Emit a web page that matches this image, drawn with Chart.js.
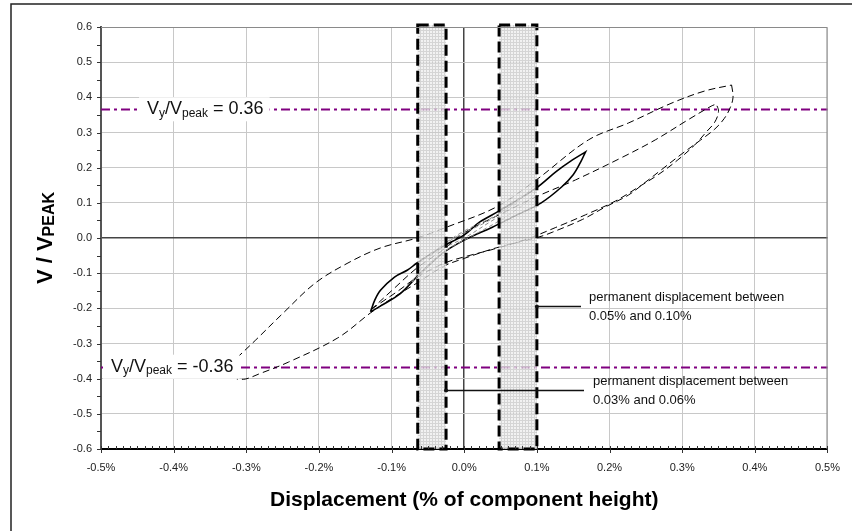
<!DOCTYPE html>
<html>
<head>
<meta charset="utf-8">
<script src="https://cdn.jsdelivr.net/npm/chart.js@4.4.1/dist/chart.umd.min.js"></script>
<style>
  html, body { margin: 0; padding: 0; background: #fff; }
  #wrap { width: 852px; height: 531px; }
</style>
</head>
<body>
<div id="wrap"><canvas id="chart" width="852" height="531"></canvas></div>
<script>
// x = displacement (% of component height), y = V / Vpeak
const YIELD_LEVELS = [0.366, -0.366];
const BANDS = [[-0.064, -0.025], [0.048, 0.100]];

// large dashed cycle (to 0.37%)
const loopAUp = [[-0.313,-0.341],[-0.287,-0.290],[-0.249,-0.213],[-0.205,-0.128],[-0.160,-0.071],[-0.115,-0.028],[-0.065,0.000],[-0.024,0.031],[0.044,0.088],[0.099,0.165],[0.171,0.279],[0.226,0.327],[0.286,0.384],[0.331,0.418],[0.368,0.435]];
const loopADown = [[0.368,0.435],[0.370,0.400],[0.366,0.370],[0.358,0.340],[0.345,0.310],[0.325,0.278],[0.300,0.240],[0.272,0.195],[0.249,0.158],[0.226,0.122],[0.194,0.088],[0.163,0.053],[0.122,0.017],[0.103,0.003],[0.044,-0.028],[0.000,-0.058],[-0.028,-0.080],[-0.065,-0.128],[-0.099,-0.171],[-0.129,-0.213],[-0.174,-0.284],[-0.242,-0.353],[-0.283,-0.387],[-0.301,-0.401],[-0.313,-0.401]];

// second dashed cycle (to 0.35%)
const loopBUp = [[-0.129,-0.205],[-0.100,-0.150],[-0.065,-0.085],[-0.030,-0.035],[0.000,0.015],[0.050,0.068],[0.100,0.118],[0.153,0.165],[0.218,0.230],[0.263,0.279],[0.308,0.336],[0.340,0.375],[0.347,0.381]];
const loopBDown = [[0.347,0.381],[0.350,0.360],[0.345,0.330],[0.333,0.301],[0.317,0.264],[0.294,0.222],[0.267,0.180],[0.240,0.145],[0.208,0.105],[0.167,0.066],[0.126,0.030],[0.085,-0.004],[0.040,-0.032],[0.003,-0.052],[-0.028,-0.072],[-0.065,-0.112],[-0.092,-0.152],[-0.119,-0.190],[-0.129,-0.205]];

// solid cycle (to 0.17%)
const solidUp = [[-0.129,-0.210],[-0.123,-0.176],[-0.115,-0.148],[-0.096,-0.111],[-0.078,-0.091],[-0.065,-0.071],[-0.031,-0.026],[0.000,0.009],[0.021,0.045],[0.048,0.077],[0.099,0.142],[0.126,0.188],[0.149,0.222],[0.167,0.245]];
const solidDown = [[0.167,0.245],[0.160,0.215],[0.150,0.180],[0.134,0.145],[0.106,0.100],[0.072,0.065],[0.038,0.030],[0.000,-0.006],[-0.031,-0.045],[-0.065,-0.110],[-0.088,-0.158],[-0.115,-0.193],[-0.129,-0.210]];

// small grey cycles
const grey1Up = [[-0.072,-0.125],[-0.055,-0.075],[-0.035,-0.030],[-0.005,0.010],[0.030,0.045],[0.060,0.085],[0.085,0.125],[0.100,0.155]];
const grey1Down = [[0.100,0.155],[0.095,0.120],[0.075,0.085],[0.045,0.045],[0.010,0.005],[-0.025,-0.035],[-0.050,-0.080],[-0.072,-0.125]];
const grey2Up = [[-0.055,-0.060],[-0.030,-0.020],[0.000,0.020],[0.040,0.060],[0.070,0.100],[0.080,0.120]];
const grey2Down = [[0.080,0.120],[0.065,0.085],[0.035,0.045],[0.000,0.000],[-0.030,-0.030],[-0.055,-0.060]];

const FONT = "'Liberation Sans', Arial, sans-serif";
const pts = (arr) => arr.map(([x, y]) => ({ x, y }));

function curve(data, color, width, dash) {
  return {
    data: pts(data),
    showLine: true,
    borderColor: color,
    borderWidth: width,
    borderDash: dash,
    pointRadius: 0,
    tension: 0.35,
    fill: false,
  };
}

function meshPattern(ctx) {
  const c = document.createElement("canvas");
  c.width = 3;
  c.height = 3;
  const p = c.getContext("2d");
  p.fillStyle = "#efefef";
  p.fillRect(0, 0, 3, 3);
  p.fillStyle = "#cbcbcb";
  p.fillRect(0, 0, 3, 1);
  p.fillRect(0, 0, 1, 3);
  return ctx.createPattern(c, "repeat");
}

// text with subscripts: parts = [text, size, dy]
function drawParts(ctx, parts, x, y) {
  let cx = x;
  parts.forEach(([t, size, dy]) => {
    ctx.font = `${size}px ${FONT}`;
    ctx.fillText(t, cx, y + dy);
    cx += ctx.measureText(t).width;
  });
}

function yieldLabel(ctx, x, y, value) {
  const parts = [["V", 18, 0], ["y", 12, 4], ["/V", 18, 0], ["peak", 12, 4], [" = " + value, 18, 0]];
  let w = 0;
  parts.forEach(([t, size]) => { ctx.font = `${size}px ${FONT}`; w += ctx.measureText(t).width; });
  ctx.fillStyle = "#fff";
  ctx.fillRect(x - 8, y - 12, w + 14, 24);
  ctx.fillStyle = "#111";
  ctx.textBaseline = "middle";
  ctx.textAlign = "left";
  drawParts(ctx, parts, x, y);
}

const overlay = {
  id: "overlay",
  beforeDatasetsDraw(chart) {
    const { ctx, chartArea: a, scales: { y } } = chart;
    ctx.save();
    ctx.strokeStyle = "#800080";
    ctx.lineWidth = 2;
    ctx.setLineDash([9, 4, 3, 4]);
    YIELD_LEVELS.forEach((v) => {
      const py = Math.round(y.getPixelForValue(v)) + 0.5;
      ctx.beginPath();
      ctx.moveTo(a.left, py);
      ctx.lineTo(a.right, py);
      ctx.stroke();
    });
    ctx.restore();
  },
  afterDatasetsDraw(chart) {
    const { ctx, chartArea: a, scales: { x, y } } = chart;
    ctx.save();
    // shaded bands
    const pat = meshPattern(ctx);
    const top = y.getPixelForValue(0.6) - 2;
    const bot = y.getPixelForValue(-0.6);
    BANDS.forEach(([x0, x1]) => {
      const l = x.getPixelForValue(x0), r = x.getPixelForValue(x1);
      ctx.globalAlpha = 0.8;
      ctx.fillStyle = pat;
      ctx.fillRect(l, top, r - l, bot - top);
      ctx.globalAlpha = 1;
      ctx.strokeStyle = "#000";
      ctx.lineWidth = 3;
      ctx.setLineDash([11, 5]);
      ctx.strokeRect(l, top, r - l, bot - top);
    });
    ctx.setLineDash([]);

    // leader lines and notes
    const notes = [
      { xv: BANDS[1][1], yv: -0.193, end: 581, tx: 589, lines: ["permanent displacement between", "0.05% and 0.10%"] },
      { xv: BANDS[0][1], yv: -0.432, end: 584, tx: 593, lines: ["permanent displacement between", "0.03% and 0.06%"] },
    ];
    ctx.strokeStyle = "#111";
    ctx.fillStyle = "#111";
    ctx.lineWidth = 1.5;
    notes.forEach((n) => {
      const px = x.getPixelForValue(n.xv), py = Math.round(y.getPixelForValue(n.yv)) + 0.5;
      ctx.beginPath();
      ctx.moveTo(px, py);
      ctx.lineTo(n.end, py);
      ctx.stroke();
      ctx.beginPath();
      ctx.arc(px, py, 2, 0, Math.PI * 2);
      ctx.fill();
      ctx.font = `13px ${FONT}`;
      ctx.textAlign = "left";
      ctx.textBaseline = "middle";
      ctx.fillText(n.lines[0], n.tx, py - 9);
      ctx.fillText(n.lines[1], n.tx, py + 10);
    });

    // yield level labels
    yieldLabel(ctx, 147, y.getPixelForValue(YIELD_LEVELS[0]), "0.36");
    yieldLabel(ctx, 111, y.getPixelForValue(YIELD_LEVELS[1]), "-0.36");
    ctx.restore();
  },
  afterDraw(chart) {
    const { ctx, chartArea: a, scales: { x, y } } = chart;
    ctx.save();
    // plot frame (top / right)
    ctx.strokeStyle = "#8a8a8a";
    ctx.lineWidth = 1;
    ctx.beginPath();
    ctx.moveTo(a.left, a.top + 0.5);
    ctx.lineTo(a.right - 0.5, a.top + 0.5);
    ctx.lineTo(a.right - 0.5, a.bottom);
    ctx.stroke();

    // y tick marks every 0.05
    ctx.strokeStyle = "#333";
    ctx.lineWidth = 1;
    for (let i = -12; i <= 12; i++) {
      const py = Math.round(y.getPixelForValue(i * 0.05)) + 0.5;
      ctx.beginPath();
      ctx.moveTo(a.left - 4, py);
      ctx.lineTo(a.left, py);
      ctx.stroke();
    }
    // x tick marks every 0.01%
    for (let i = -50; i <= 50; i++) {
      const px = Math.round(x.getPixelForValue(i * 0.01)) + 0.5;
      const major = i % 10 === 0;
      ctx.beginPath();
      ctx.moveTo(px, a.bottom - 3);
      ctx.lineTo(px, a.bottom + (major ? 4 : 0));
      ctx.stroke();
    }

    // axis titles
    ctx.fillStyle = "#000";
    ctx.textBaseline = "middle";
    ctx.textAlign = "center";
    ctx.font = `bold 21px ${FONT}`;
    ctx.fillText("Displacement (% of component height)", (a.left + a.right) / 2, 500);

    ctx.save();
    ctx.translate(44, (a.top + a.bottom) / 2);
    ctx.rotate(-Math.PI / 2);
    ctx.font = `bold 22px ${FONT}`;
    const w1 = ctx.measureText("V / V").width;
    ctx.font = `bold 16px ${FONT}`;
    const w2 = ctx.measureText("PEAK").width;
    ctx.textAlign = "left";
    ctx.textBaseline = "alphabetic";
    let sx = -(w1 + w2) / 2;
    ctx.font = `bold 22px ${FONT}`;
    ctx.fillText("V / V", sx, 8);
    ctx.font = `bold 16px ${FONT}`;
    ctx.fillText("PEAK", sx + w1, 10);
    ctx.restore();

    // outer chart frame
    ctx.strokeStyle = "#222";
    ctx.lineWidth = 1.5;
    ctx.beginPath();
    ctx.moveTo(11, 531);
    ctx.lineTo(11, 4);
    ctx.lineTo(852, 4);
    ctx.stroke();
    ctx.restore();
  },
};

const isZero = (v) => Math.abs(v) < 1e-9;

new Chart(document.getElementById("chart"), {
  type: "scatter",
  data: {
    datasets: [
      curve([...grey1Up, ...grey1Down], "#8c8c8c", 1, [4, 3]),
      curve([...grey2Up, ...grey2Down], "#8c8c8c", 1, [4, 3]),
      curve(loopAUp, "#000", 1, [7, 4]),
      curve(loopADown, "#000", 1, [7, 4]),
      curve([...loopBUp, ...loopBDown], "#000", 1, [7, 4]),
      curve([...solidUp, ...solidDown], "#000", 1.6, []),
    ],
  },
  options: {
    responsive: false,
    animation: false,
    devicePixelRatio: 1,
    layout: { padding: { left: 0, top: 27, right: 18, bottom: 0 } },
    plugins: { legend: { display: false }, tooltip: { enabled: false } },
    scales: {
      x: {
        type: "linear",
        min: -0.5,
        max: 0.5,
        afterFit: (s) => { s.height = 82; },
        ticks: {
          stepSize: 0.1,
          padding: 12,
          color: "#222",
          font: { family: FONT, size: 11 },
          callback: (v) => (isZero(v) ? "0.0" : v.toFixed(1)) + "%",
        },
        grid: {
          drawTicks: false,
          color: (c) => (isZero(c.tick.value) ? "#444" : "#c8c8c8"),
          lineWidth: (c) => (isZero(c.tick.value) ? 1.5 : 1),
        },
        border: { display: true, color: "#000", width: 2 },
      },
      y: {
        type: "linear",
        min: -0.6,
        max: 0.6,
        afterFit: (s) => { s.width = 101; },
        ticks: {
          stepSize: 0.1,
          padding: 9,
          color: "#222",
          font: { family: FONT, size: 11 },
          callback: (v) => (isZero(v) ? "0.0" : v.toFixed(1)),
        },
        grid: {
          drawTicks: false,
          color: (c) => (isZero(c.tick.value) ? "#444" : "#c8c8c8"),
          lineWidth: (c) => (isZero(c.tick.value) ? 1.5 : 1),
        },
        border: { display: true, color: "#555", width: 2 },
      },
    },
  },
  plugins: [overlay],
});
</script>
</body>
</html>
